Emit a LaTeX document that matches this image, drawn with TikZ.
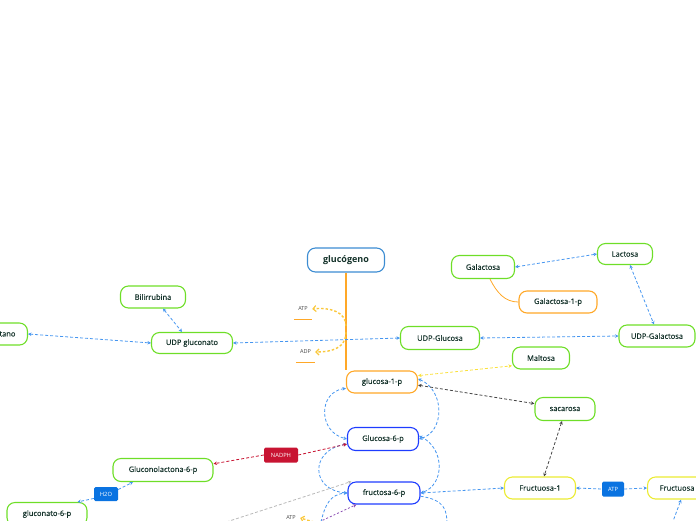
\documentclass[tikz,border=0pt]{standalone}
\usepackage{fontspec}
\setmainfont{Open Sans}
\newfontfamily\nodefont{Open Sans}[FakeBold=0.5]
\usetikzlibrary{arrows.meta}
\definecolor{grn}{RGB}{110,222,40}
\definecolor{txt}{RGB}{20,50,42}
\definecolor{org}{RGB}{255,168,40}
\definecolor{orgd}{RGB}{250,200,60}
\definecolor{bblue}{RGB}{30,60,255}
\definecolor{gblue}{RGB}{60,140,210}
\definecolor{yel}{RGB}{235,235,50}
\definecolor{lnk}{RGB}{70,150,240}
\definecolor{tagb}{RGB}{10,115,225}
\definecolor{tagr}{RGB}{200,20,50}
\definecolor{dgray}{RGB}{70,70,70}
\definecolor{lgray}{RGB}{185,185,185}
\definecolor{purp}{RGB}{140,80,180}
\definecolor{ylnk}{RGB}{250,225,60}
\tikzset{
  nd/.style={draw, rounded corners=8pt, line width=1.1pt, text=txt, minimum height=22pt, inner sep=0pt, font=\nodefont\fontsize{7.5}{9}\selectfont},
  gn/.style={nd, draw=grn},
  on/.style={nd, draw=org},
  bn/.style={nd, draw=bblue},
  yn/.style={nd, draw=yel},
  tag/.style={rounded corners=1.5pt, text=white, inner sep=0pt, minimum height=15pt, font=\fontsize{5.8}{7}\selectfont},
  lab/.style={inner sep=0pt, minimum height=20pt, text=dgray, font=\fontsize{5.5}{6}\selectfont},
  blink/.style={draw=lnk, dash pattern=on 3pt off 2pt, line width=0.8pt, {Stealth[length=3.5pt,width=3.5pt]}-{Stealth[length=3.5pt,width=3.5pt]}},
  blinkr/.style={draw=lnk, dash pattern=on 3pt off 2pt, line width=0.8pt, -{Stealth[length=3.5pt,width=3.5pt]}},
  blinkl/.style={draw=lnk, dash pattern=on 3pt off 2pt, line width=0.8pt, {Stealth[length=3.5pt,width=3.5pt]}-},
  blinkn/.style={draw=lnk, dash pattern=on 3pt off 2pt, line width=0.8pt},
  klink/.style={draw=dgray, dash pattern=on 3pt off 2pt, line width=0.8pt, {Stealth[length=3.5pt,width=3.5pt]}-{Stealth[length=3.5pt,width=3.5pt]}},
  ylink/.style={draw=ylnk, dash pattern=on 3pt off 2pt, line width=0.8pt, {Stealth[length=3.5pt,width=3.5pt]}-{Stealth[length=3.5pt,width=3.5pt]}},
  rlink/.style={draw=tagr, dash pattern=on 3pt off 2pt, line width=0.8pt, -{Stealth[length=3.5pt,width=3.5pt]}},
  glink/.style={draw=lgray, dash pattern=on 3pt off 2pt, line width=0.8pt, -{Stealth[length=3.5pt,width=3.5pt]}},
  plink/.style={draw=purp, dash pattern=on 2pt off 2pt, line width=0.8pt, -{Stealth[length=3.5pt,width=3.5pt]}},
  olink/.style={draw=orgd, dash pattern=on 2.5pt off 2pt, line width=1.4pt, -{Straight Barb[length=3pt,width=6pt,line width=1.2pt]}},
  uline/.style={draw=org, line width=1.4pt},
}
\begin{document}
\begin{tikzpicture}[x=1pt,y=-1pt]
\path[use as bounding box] (0,0) rectangle (696,520);
\clip (0,0) rectangle (696,520);

% nodes
\node[nd, draw=gblue, minimum width=77, minimum height=24, font=\fontsize{9}{11}\selectfont\bfseries] (glu) at (346,260) {glucógeno};
\node[gn, minimum width=63, minimum height=23] (gal) at (483,267) {Galactosa};
\node[gn, minimum width=55, minimum height=21] (lac) at (625,254) {Lactosa};
\node[on, minimum width=78] (gal1p) at (558,302) {Galactosa-1-p};
\node[gn, minimum width=65] (bil) at (153,297) {Bilirrubina};
\node[gn, minimum width=81, minimum height=21] (udpgn) at (192,343) {UDP gluconato};
\node[gn, minimum width=70, anchor=east] (tano) at (28,334) {\hspace*{30pt}tano};
\node[gn, minimum width=79, minimum height=23] (udpglc) at (440,338) {UDP-Glucosa};
\node[gn, minimum width=76] (udpgal) at (657,336) {UDP-Galactosa};
\node[gn, minimum width=57] (malt) at (541,358) {Maltosa};
\node[on, minimum width=71] (g1p) at (382,382) {glucosa-1-p};
\node[bn, minimum width=71, minimum height=23] (g6p) at (383,439) {Glucosa-6-p};
\node[gn, minimum width=60, minimum height=23] (sac) at (565,409) {sacarosa};
\node[bn, minimum width=72] (f6p) at (384,493) {fructosa-6-p};
\node[yn, minimum width=71] (fr1) at (540,488) {Fructuosa-1};
\node[tag, fill=tagb, minimum width=22] (atp2) at (613,489) {ATP};
\node[yn, minimum width=71, anchor=west] (fru) at (647,488) {Fructuosa\hspace*{12pt}};
\node[gn, minimum width=100, minimum height=23] (gl6) at (163,470) {Gluconolactona-6-p};
\node[tag, fill=tagr, minimum width=34] (nadph) at (281,455) {NADPH};
\node[tag, fill=tagb, minimum width=24, minimum height=14] (h2o) at (106,494) {H2O};
\node[gn, minimum width=80, minimum height=23] (gc6) at (47,514) {gluconato-6-p};

% small labels
\node[lab, minimum width=18] (atp1) at (303,309) {ATP};
\node[lab, minimum width=19] (adp) at (305.5,352) {ADP};
\node[lab, minimum width=18] (atp3) at (291,518) {ATP};
\draw[uline] (atp1.south west) -- (atp1.south east);
\draw[uline] (adp.south west) -- (adp.south east);
\draw[uline] (atp3.south west) -- (atp3.south east);

% glycogen trunk
\draw[org, line width=2pt] (glu.south) -- (glu.south |- g1p.north);
\coordinate (br1) at (346,326);
\coordinate (br2) at (346,332);
\draw[olink] (br1) .. controls (346,312) and (330,307) .. (atp1.east);
\draw[olink] (br2) .. controls (346,348) and (332,352) .. (adp.east);
\coordinate (c5) at (314,522);
\draw[olink] (c5) -- (atp3.east);

% blue links
\draw[blink] (tano.east) -- (udpgn.west);
\draw[blink] ([xshift=10pt]bil.south) -- ([xshift=-10pt]udpgn.north);
\draw[blink] (udpgn.east) -- (udpglc.west);
\draw[blink] (udpglc.east) -- (udpgal.west);
\draw[blink] (gal.east) -- (lac.west);
\draw[blink] ([xshift=5pt]lac.south) -- ([xshift=-3pt]udpgal.north);
\draw[org, line width=0.8pt] ([xshift=7pt]gal.south) .. controls (497,293) and (505,302) .. (gal1p.west);

\draw[blink] (g1p.190) .. controls (318,392) and (318,432) .. (g6p.west);
\draw[blink] (g1p.5) .. controls (445,390) and (445,432) .. (g6p.east);
\draw[blink] (g6p.188) .. controls (310,450) and (310,490) .. (f6p.west);
\draw[blink] (g6p.5) .. controls (445,448) and (445,485) .. (f6p.east);
\coordinate (c6) at (447,525);
\draw[blinkn] (f6p.355) .. controls (445,500) and (447,510) .. (c6);
\coordinate (c1) at (321,522);
\draw[blinkr] (c1) .. controls (325,505) and (330,494) .. (f6p.west);
\draw[blink] (f6p.east) -- (fr1.west);
\draw[blinkl] (fr1.east) -- (atp2.west);
\draw[blinkr] (atp2.east) -- (fru.west);
\coordinate (c4) at (672,524);
\draw[blinkr] (c4) -- ([xshift=-2pt]fru.south);

% yellow / gray / red / purple links
\draw[ylink] (g1p.10) -- (malt.195);
\draw[klink] (g1p.355) -- (sac.170);
\draw[klink] ([xshift=-3pt]sac.south) -- ([xshift=4pt]fr1.north);
\draw[rlink] (nadph.east) -- (g6p.188);
\draw[rlink] (nadph.west) -- (gl6.7);
\draw[blinkr] (h2o.20) -- ([xshift=-30pt]gl6.south);
\draw[blinkr] (h2o.200) -- ([xshift=-10pt]gc6.north east);
\coordinate (c2) at (217,525);
\draw[glink] (c2) -- ([xshift=4pt]f6p.north west);
\coordinate (c3) at (319,522);
\draw[plink] (c3) -- ([xshift=9pt]f6p.south west);
\end{tikzpicture}
\end{document}
